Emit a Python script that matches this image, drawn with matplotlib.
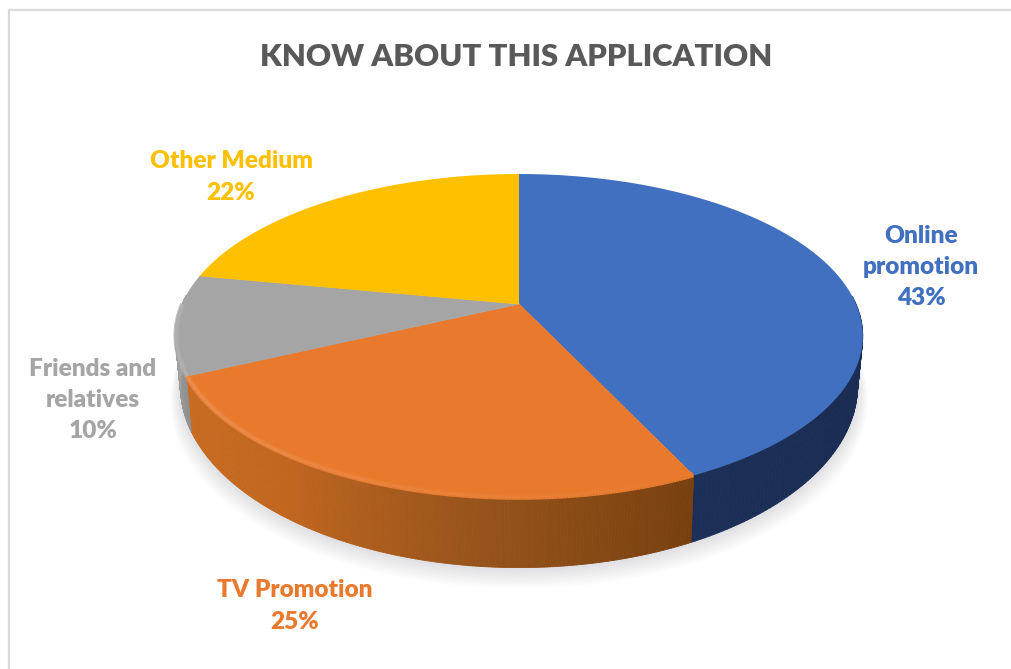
import numpy as np
import matplotlib
matplotlib.use("Agg")
import matplotlib.pyplot as plt
from matplotlib.collections import PolyCollection, LineCollection
from matplotlib.colors import to_rgb

title = "KNOW ABOUT THIS APPLICATION"
names = ["Online\npromotion", "TV Promotion", "Friends and\nrelatives", "Other Medium"]
values = [43, 25, 10, 22]
colors = ["#4070BF", "#E97A2D", "#A5A5A5", "#FFC000"]
wall_colors = [
    ["#1B2F58", "#1A2C52", "#1B2F58"],
    ["#78400F", "#96531B", "#C0661F", "#C96C22"],
    ["#8F8F8F", "#A0A0A0", "#A8A8A8"],
    ["#B08500", "#B08500"],
]
label_xy = [(921, 267), (295, 606), (93, 400), (231, 177)]

plt.rcParams["font.family"] = ["Lato", "DejaVu Sans"]

CX, CY = 519, 304
R, A, K = 337, 155.6, 0.197
DEPTH = 46


def project(theta, r=1.0, bottom=False):
    x = r * np.sin(theta)
    y = r * np.cos(theta)
    w = 1 + K * y
    if bottom:
        return CX + 0.985 * R * x / w, CY - 1.123 * A * y / w + DEPTH
    return CX + R * x / w, CY - A * y / w


def blend(stops, t):
    rgb = np.array([to_rgb(c) for c in stops])
    pos = np.linspace(0, 1, len(stops))
    return [np.interp(t, pos, rgb[:, i]) for i in range(3)]


fig = plt.figure(figsize=(10.11, 6.69), dpi=100)
ax = fig.add_axes([0, 0, 1, 1])
ax.set_xlim(0, 1011)
ax.set_ylim(669, 0)
ax.axis("off")

# chart frame
ax.plot([8.5, 8.5, 1011], [669, 9.5, 9.5], color="#D9D9D9", lw=1.6, zorder=1)

# soft shadow under the pie
ring = np.linspace(np.pi * 0.45, np.pi * 1.55, 361)
for grow in np.arange(20, 0, -2):
    sx, sy = project(ring, 1 + grow / 700, bottom=True)
    ax.fill(sx, sy + grow * 0.6 + 1, color="#6A7488", alpha=0.02, lw=0, zorder=2)

edges = np.radians(np.cumsum([0] + values) * 3.6)

# side wall, only the part facing the viewer
for i in range(len(values)):
    th = np.linspace(edges[i], edges[i + 1], 200)
    th = th[np.cos(th) < 0.06]
    if len(th) < 2:
        continue
    tx, ty = project(th)
    bx, by = project(th, bottom=True)
    quads = []
    cols = []
    for j in range(len(th) - 1):
        quads.append([(tx[j], ty[j]), (tx[j + 1], ty[j + 1]), (bx[j + 1], by[j + 1]), (bx[j], by[j])])
        cols.append(blend(wall_colors[i], j / (len(th) - 2)))
    ax.add_collection(PolyCollection(quads, facecolors=cols, edgecolors=cols, linewidths=0.6, zorder=3))

# top faces
for i in range(len(values)):
    th = np.linspace(edges[i], edges[i + 1], 200)
    sx, sy = project(th)
    ax.fill(np.r_[CX, sx], np.r_[CY, sy], color=colors[i], lw=0, zorder=4)
    ax.plot(np.r_[CX, sx[0]], np.r_[CY, sy[0]], color=colors[i], lw=0.6, zorder=4)

# rim highlight on the front edge, two strokes so it stays soft
for i, (col, strength) in enumerate(zip(colors, [0.0, 0.16, 0.15, 0.0])):
    if strength == 0:
        continue
    th = np.linspace(edges[i], edges[i + 1], 200)
    th = th[np.cos(th) < 0.0]
    sx, sy = project(th, 0.997)
    pts = np.column_stack([sx, sy])
    segs = np.stack([pts[:-1], pts[1:]], axis=1)
    base = np.array(to_rgb(col))
    fade = np.linspace(0, 1, len(segs)) if i == 1 else np.ones(len(segs))
    for lw, share in [(4.0, 0.5), (1.8, 1.0)]:
        seg_cols = [base + (1 - base) * strength * share * f for f in fade]
        ax.add_collection(LineCollection(segs, colors=seg_cols, linewidths=lw, zorder=5))

# labels
for name, val, col, (lx, ly) in zip(names, values, colors, label_xy):
    ax.text(lx, ly, f"{name}\n{val}%", color=col, fontsize=17.6, fontweight="heavy",
            ha="center", va="center", linespacing=1.52, zorder=6)

ax.text(516, 56.5, title, color="#595959", fontsize=22.3, fontweight="heavy",
        ha="center", va="center", zorder=6)

fig.savefig("out.png", dpi=100)
